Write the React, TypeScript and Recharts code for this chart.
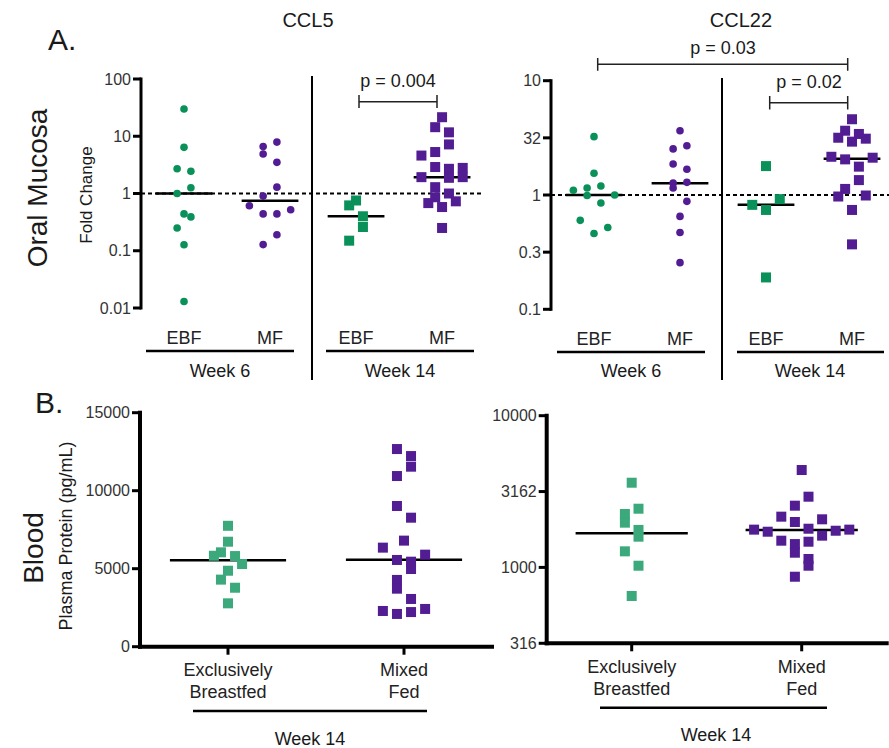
import React from "react";
import { ScatterChart, Scatter, XAxis, YAxis, ReferenceLine } from "recharts";

type Pt = { v: number; c: number }; // v = value, c = column offset inside its group

// Oral mucosa, CCL5 fold change
const ccl5Wk6Ebf: Pt[] = [
  { v: 30, c: 0 }, { v: 6.4, c: 0 }, { v: 2.7, c: -1 }, { v: 2.45, c: 1 }, { v: 1.26, c: 1 },
  { v: 1.0, c: -1 }, { v: 0.44, c: 0 }, { v: 0.39, c: 1 }, { v: 0.25, c: -1 }, { v: 0.127, c: 0 },
  { v: 0.013, c: 0 },
];
const ccl5Wk6Mf: Pt[] = [
  { v: 6.6, c: -1 }, { v: 7.9, c: 1 }, { v: 4.9, c: -1 }, { v: 3.5, c: 1 }, { v: 1.29, c: 1 },
  { v: 0.9, c: -1 }, { v: 0.61, c: -3 }, { v: 0.52, c: 3 }, { v: 0.44, c: -1 }, { v: 0.44, c: 1 },
  { v: 0.19, c: 1 }, { v: 0.128, c: -1 },
];
const ccl5Wk14Ebf: Pt[] = [
  { v: 0.755, c: 0 }, { v: 0.62, c: -1 }, { v: 0.4, c: 1 }, { v: 0.26, c: 1 }, { v: 0.15, c: -1 },
];
const ccl5Wk14Mf: Pt[] = [
  { v: 21.5, c: 0 }, { v: 14.4, c: -1 }, { v: 11.7, c: 1 }, { v: 7.2, c: 1 }, { v: 4.6, c: -3 },
  { v: 5.3, c: -1 }, { v: 2.9, c: -1 }, { v: 2.7, c: 1 }, { v: 2.8, c: 3 }, { v: 1.93, c: -3 },
  { v: 1.88, c: 1 }, { v: 1.93, c: 3 }, { v: 1.29, c: -1 }, { v: 0.86, c: -1 }, { v: 1.0, c: 1 },
  { v: 0.68, c: -2 }, { v: 0.73, c: 2 }, { v: 0.58, c: 0 }, { v: 0.25, c: 0 },
];
const ccl5Medians = [1.0, 0.75, 0.4, 1.93];
const ccl5Ticks = [0.01, 0.1, 1, 10, 100];

// Oral mucosa, CCL22 fold change
const ccl22Wk6Ebf: Pt[] = [
  { v: 3.24, c: 0 }, { v: 1.55, c: 0 }, { v: 1.1, c: -3 }, { v: 1.15, c: -1 }, { v: 1.2, c: 1 },
  { v: 0.99, c: -1 }, { v: 1.0, c: 3 }, { v: 0.85, c: 1 }, { v: 0.6, c: -2 }, { v: 0.52, c: 2 },
  { v: 0.46, c: 0 },
];
const ccl22Wk6Mf: Pt[] = [
  { v: 3.65, c: 0 }, { v: 2.53, c: -1 }, { v: 2.7, c: 1 }, { v: 1.87, c: -1 }, { v: 1.68, c: 1 },
  { v: 1.27, c: -1 }, { v: 1.15, c: -1 }, { v: 1.29, c: 1 }, { v: 0.88, c: 1 }, { v: 0.65, c: 0 },
  { v: 0.47, c: 0 }, { v: 0.256, c: 0 },
];
const ccl22Wk14Ebf: Pt[] = [
  { v: 1.79, c: 0 }, { v: 0.92, c: 2 }, { v: 0.82, c: -2 }, { v: 0.74, c: 0 }, { v: 0.19, c: 0 },
];
const ccl22Wk14Mf: Pt[] = [
  { v: 4.6, c: 0 }, { v: 3.65, c: -1 }, { v: 3.42, c: 1 }, { v: 3.17, c: -2 }, { v: 3.11, c: 2 },
  { v: 2.93, c: 0 }, { v: 2.16, c: -3 }, { v: 2.05, c: -1 }, { v: 2.12, c: 3 }, { v: 1.77, c: 1 },
  { v: 1.35, c: 1 }, { v: 1.13, c: -1 }, { v: 0.97, c: -2 }, { v: 0.99, c: 2 }, { v: 0.74, c: 0 },
  { v: 0.37, c: 0 },
];
const ccl22Medians = [1.0, 1.27, 0.82, 2.08];
const ccl22Ticks = [0.1, 0.3162, 1, 3.162, 10];
const ccl22TickLabels = ["0.1", "0.3", "1", "32", "10"];

// Blood, plasma protein (pg/mL), week 14
const plasmaLinEbf: Pt[] = [
  { v: 7750, c: 0 }, { v: 6730, c: 0 }, { v: 6050, c: -1 }, { v: 5830, c: -2 }, { v: 5810, c: 1 },
  { v: 5300, c: 2 }, { v: 4870, c: 0 }, { v: 4300, c: -1 }, { v: 3780, c: 1 }, { v: 2780, c: 0 },
];
const plasmaLinMf: Pt[] = [
  { v: 12670, c: -1 }, { v: 12220, c: 1 }, { v: 11540, c: 1 }, { v: 10940, c: -1 }, { v: 9020, c: -1 },
  { v: 8270, c: 1 }, { v: 6800, c: 0 }, { v: 6350, c: -3 }, { v: 5900, c: 3 }, { v: 5560, c: -1 },
  { v: 5450, c: 1 }, { v: 4980, c: 1 }, { v: 4280, c: -1 }, { v: 3720, c: -1 }, { v: 3060, c: 1 },
  { v: 2290, c: -3 }, { v: 2420, c: 3 }, { v: 2100, c: -1 }, { v: 2220, c: 1 },
];
const plasmaLinMedians = [5540, 5580];
const plasmaLinTicks = [0, 5000, 10000, 15000];

const plasmaLogEbf: Pt[] = [
  { v: 3616, c: 0 }, { v: 2437, c: 1 }, { v: 2249, c: -1 }, { v: 1972, c: -1 }, { v: 1766, c: 1 },
  { v: 1594, c: 1 }, { v: 1276, c: -1 }, { v: 1026, c: 1 }, { v: 648, c: 0 },
];
const plasmaLogMf: Pt[] = [
  { v: 4385, c: 0 }, { v: 2925, c: 1 }, { v: 2552, c: -1 }, { v: 2160, c: -3 }, { v: 2075, c: 3 },
  { v: 1992, c: -1 }, { v: 1774, c: -7 }, { v: 1719, c: -5 }, { v: 1799, c: 1 }, { v: 1745, c: 5 },
  { v: 1774, c: 7 }, { v: 1619, c: 3 }, { v: 1500, c: -3 }, { v: 1477, c: 1 }, { v: 1425, c: -1 },
  { v: 1250, c: -1 }, { v: 1136, c: 1 }, { v: 1026, c: 1 }, { v: 868, c: -1 },
];
const plasmaLogMedians = [1680, 1766];
const plasmaLogTicks = [316, 1000, 3162, 10000];

const topGroups = ["EBF", "MF", "EBF", "MF"];
const bottomGroups = [["Exclusively", "Breastfed"], ["Mixed", "Fed"]];

const FONT = '"Liberation Sans", Arial, Helvetica, sans-serif';
const GREEN = "#0a9159";
const GREEN_LT = "#3ca97c";
const PURPLE = "#521c93";

const circle = (fill: string) => (p: any) => <circle cx={p.cx} cy={p.cy} r={3.8} fill={fill} />;
const square = (fill: string) => (p: any) => (
  <rect x={p.cx - 5} y={p.cy - 5} width={10} height={10} fill={fill} />
);

const place = (pts: Pt[], group: number, step: number) =>
  pts.map((p) => ({ x: group + p.c * step, y: p.v }));

const medianSeg = (g: number, m: number) => [
  { x: g - 0.33, y: m },
  { x: g + 0.33, y: m },
];

const yAxisLine = { stroke: "#000", strokeWidth: 3, strokeLinecap: "square" as const };
const tickStyle = { fill: "#333", fontSize: 16 };

const TwoLineTick = (props: any) => {
  const { x, y, payload } = props;
  const lines = bottomGroups[payload.value - 1] ?? [];
  return (
    <g>
      {lines.map((t, i) => (
        <text key={i} x={x} y={y + 19.5 + i * 22} textAnchor="middle" fill="#222" fontSize={18}>
          {t}
        </text>
      ))}
    </g>
  );
};

function Overlay() {
  return (
    <svg width={889} height={748} style={{ position: "absolute", left: 0, top: 0, pointerEvents: "none" }}>
      <g fill="#1a1a1a" fontFamily={FONT}>
        <text x={48} y={50} fontSize={30}>A.</text>
        <text x={35} y={413} fontSize={30}>B.</text>
        <text x={308} y={27} fontSize={20} textAnchor="middle">CCL5</text>
        <text x={741} y={27} fontSize={20} textAnchor="middle">CCL22</text>
        <text transform="translate(47,188) rotate(-90)" fontSize={28} textAnchor="middle">Oral Mucosa</text>
        <text transform="translate(43,548) rotate(-90)" fontSize={28} textAnchor="middle">Blood</text>
        <text transform="translate(91.5,195) rotate(-90)" fontSize={17} textAnchor="middle">Fold Change</text>
        <text transform="translate(71.5,536) rotate(-90)" fontSize={18} textAnchor="middle">
          Plasma Protein (pg/mL)
        </text>

        {/* significance brackets */}
        <text x={398} y={87} fontSize={18} textAnchor="middle">p = 0.004</text>
        <text x={723} y={54} fontSize={18} textAnchor="middle">p = 0.03</text>
        <text x={809} y={88} fontSize={18} textAnchor="middle">p = 0.02</text>

        {/* week labels */}
        <text x={220} y={377} fontSize={18} textAnchor="middle">Week 6</text>
        <text x={400} y={377} fontSize={18} textAnchor="middle">Week 14</text>
        <text x={631} y={377} fontSize={18} textAnchor="middle">Week 6</text>
        <text x={810} y={377} fontSize={18} textAnchor="middle">Week 14</text>
        <text x={310} y={745} fontSize={18} textAnchor="middle">Week 14</text>
        <text x={716} y={741} fontSize={18} textAnchor="middle">Week 14</text>
      </g>
      <g stroke="#222" strokeWidth={1.5} fill="none">
        <path d="M359 95V108M359 101.7H437M437 95V108" />
        <path d="M597.7 58V70.7M597.7 64.3H847.7M847.7 58V70.7" />
        <path d="M769.7 96V109.5M769.7 102.7H847.7M847.7 96V109.5" />
      </g>
      <g stroke="#000" fill="none">
        <path d="M312 76V380M722 78V380" strokeWidth={2} />
        <path d="M146 351H294M326 351H474M557 352H705M737 352H884" strokeWidth={2.5} />
        <path d="M193 711H427M600 707.7H827" strokeWidth={2.5} />
      </g>
    </svg>
  );
}

export default function App() {
  return (
    <div
      style={{
        position: "absolute",
        left: 0,
        top: 0,
        width: 889,
        height: 748,
        background: "#fff",
        fontFamily: FONT,
        overflow: "hidden",
      }}
    >
      {/* A: CCL5 */}
      <div style={{ position: "absolute", left: 0, top: 0 }}>
        <ScatterChart width={490} height={390} margin={{ top: 79, right: 7.5, bottom: 0, left: 0 }}>
          <XAxis
            type="number"
            dataKey="x"
            domain={[0.5, 4.47]}
            ticks={[1, 2, 3, 4]}
            interval={0}
            allowDataOverflow
            tickFormatter={(v: number) => topGroups[v - 1]}
            axisLine={false}
            tickLine={false}
            tickSize={0}
            tickMargin={23}
            height={82}
            tick={{ fill: "#222", fontSize: 18 }}
          />
          <YAxis
            type="number"
            dataKey="y"
            scale="log"
            domain={[0.01, 100]}
            ticks={ccl5Ticks}
            interval={0}
            allowDataOverflow
            width={141}
            axisLine={yAxisLine}
            tickLine={{ stroke: "#000", strokeWidth: 3 }}
            tickSize={8}
            tick={tickStyle}
            tickFormatter={(v: number) => String(v)}
          />
          <ReferenceLine y={1} stroke="#000" strokeWidth={2} strokeDasharray="4 3" />
          <Scatter data={place(ccl5Wk6Ebf, 1, 0.08)} shape={circle(GREEN)} isAnimationActive={false} />
          <Scatter data={place(ccl5Wk6Mf, 2, 0.08)} shape={circle(PURPLE)} isAnimationActive={false} />
          <Scatter data={place(ccl5Wk14Ebf, 3, 0.08)} shape={square(GREEN)} isAnimationActive={false} />
          <Scatter data={place(ccl5Wk14Mf, 4, 0.08)} shape={square(PURPLE)} isAnimationActive={false} />
          {ccl5Medians.map((m, i) => (
            <ReferenceLine key={i} segment={medianSeg(i + 1, m)} stroke="#000" strokeWidth={2.5} />
          ))}
        </ScatterChart>
      </div>

      {/* A: CCL22 */}
      <div style={{ position: "absolute", left: 490, top: 0 }}>
        <ScatterChart width={399} height={390} margin={{ top: 80.7, right: 0, bottom: 0, left: 0 }}>
          <XAxis
            type="number"
            dataKey="x"
            domain={[0.5, 4.43]}
            ticks={[1, 2, 3, 4]}
            interval={0}
            allowDataOverflow
            tickFormatter={(v: number) => topGroups[v - 1]}
            axisLine={false}
            tickLine={false}
            tickSize={0}
            tickMargin={23}
            height={80.7}
            tick={{ fill: "#222", fontSize: 18 }}
          />
          <YAxis
            type="number"
            dataKey="y"
            scale="log"
            domain={[0.1, 10]}
            ticks={ccl22Ticks}
            interval={0}
            allowDataOverflow
            width={61}
            axisLine={yAxisLine}
            tickLine={{ stroke: "#000", strokeWidth: 3 }}
            tickSize={8}
            tick={tickStyle}
            tickFormatter={(v: number) => ccl22TickLabels[ccl22Ticks.indexOf(v)] ?? String(v)}
          />
          <ReferenceLine y={1} stroke="#000" strokeWidth={2} strokeDasharray="4 3" />
          <Scatter data={place(ccl22Wk6Ebf, 1, 0.08)} shape={circle(GREEN)} isAnimationActive={false} />
          <Scatter data={place(ccl22Wk6Mf, 2, 0.08)} shape={circle(PURPLE)} isAnimationActive={false} />
          <Scatter data={place(ccl22Wk14Ebf, 3, 0.08)} shape={square(GREEN)} isAnimationActive={false} />
          <Scatter data={place(ccl22Wk14Mf, 4, 0.08)} shape={square(PURPLE)} isAnimationActive={false} />
          {ccl22Medians.map((m, i) => (
            <ReferenceLine key={i} segment={medianSeg(i + 1, m)} stroke="#000" strokeWidth={2.5} />
          ))}
        </ScatterChart>
      </div>

      {/* B: plasma, linear */}
      <div style={{ position: "absolute", left: 0, top: 380 }}>
        <ScatterChart width={500} height={368} margin={{ top: 32.7, right: 8, bottom: 0, left: 0 }}>
          <XAxis
            type="number"
            dataKey="x"
            domain={[0.5, 2.5]}
            ticks={[1, 2]}
            interval={0}
            allowDataOverflow
            axisLine={{ stroke: "#000", strokeWidth: 4, strokeLinecap: "square" }}
            tickLine={{ stroke: "#000", strokeWidth: 3 }}
            tickSize={8}
            height={101.3}
            tick={<TwoLineTick />}
          />
          <YAxis
            type="number"
            dataKey="y"
            domain={[0, 15000]}
            ticks={plasmaLinTicks}
            interval={0}
            allowDataOverflow
            width={140}
            axisLine={{ stroke: "#000", strokeWidth: 4, strokeLinecap: "square" }}
            tickLine={{ stroke: "#000", strokeWidth: 3 }}
            tickSize={8}
            tick={tickStyle}
          />
          <Scatter data={place(plasmaLinEbf, 1, 0.04)} shape={square(GREEN_LT)} isAnimationActive={false} />
          <Scatter data={place(plasmaLinMf, 2, 0.04)} shape={square(PURPLE)} isAnimationActive={false} />
          {plasmaLinMedians.map((m, i) => (
            <ReferenceLine key={i} segment={medianSeg(i + 1, m)} stroke="#000" strokeWidth={2.5} />
          ))}
        </ScatterChart>
      </div>

      {/* B: plasma, log */}
      <div style={{ position: "absolute", left: 490, top: 380 }}>
        <ScatterChart width={399} height={368} margin={{ top: 35.7, right: 2.3, bottom: 0, left: 0 }}>
          <XAxis
            type="number"
            dataKey="x"
            domain={[0.5, 2.5]}
            ticks={[1, 2]}
            interval={0}
            allowDataOverflow
            axisLine={{ stroke: "#000", strokeWidth: 4, strokeLinecap: "square" }}
            tickLine={{ stroke: "#000", strokeWidth: 3 }}
            tickSize={8}
            height={104.7}
            tick={<TwoLineTick />}
          />
          <YAxis
            type="number"
            dataKey="y"
            scale="log"
            domain={[316, 10000]}
            ticks={plasmaLogTicks}
            interval={0}
            allowDataOverflow
            width={56.7}
            axisLine={{ stroke: "#000", strokeWidth: 4, strokeLinecap: "square" }}
            tickLine={{ stroke: "#000", strokeWidth: 3 }}
            tickSize={8}
            tick={tickStyle}
          />
          <Scatter data={place(plasmaLogEbf, 1, 0.04)} shape={square(GREEN_LT)} isAnimationActive={false} />
          <Scatter data={place(plasmaLogMf, 2, 0.04)} shape={square(PURPLE)} isAnimationActive={false} />
          {plasmaLogMedians.map((m, i) => (
            <ReferenceLine key={i} segment={medianSeg(i + 1, m)} stroke="#000" strokeWidth={2.5} />
          ))}
        </ScatterChart>
      </div>

      <Overlay />
    </div>
  );
}
